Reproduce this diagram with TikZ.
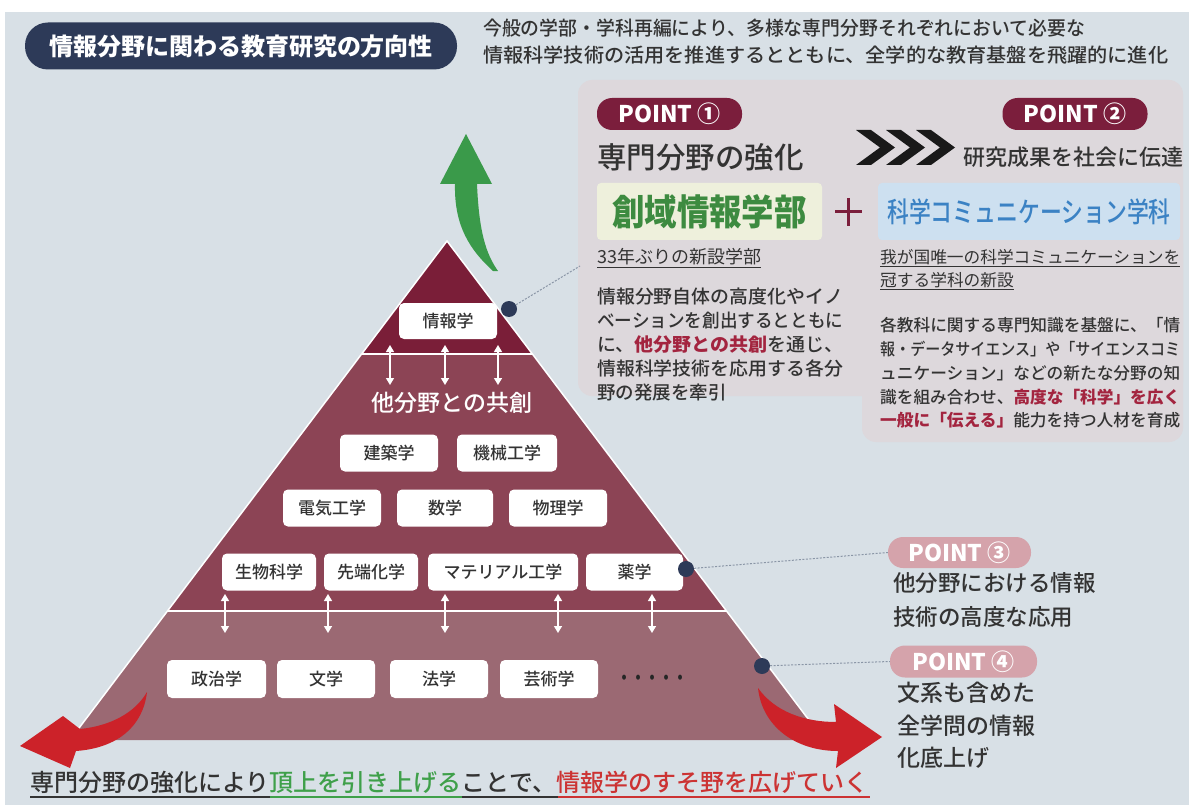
\documentclass[tikz,border=0pt]{standalone}
\usepackage{fontspec}
\usepackage{graphicx}
\setmainfont{Noto Sans CJK JP}
\IfFontExistsTF{Noto Sans CJK JP Medium}{\newfontfamily\medf{Noto Sans CJK JP Medium}}{\newcommand{\medf}{\rmfamily}}
\usetikzlibrary{arrows.meta,calc}
\definecolor{bgc}{HTML}{D8E0E6}
\definecolor{panelc}{HTML}{DDD8DC}
\definecolor{navy}{HTML}{2D3A58}
\definecolor{maroon}{HTML}{7B1E3C}
\definecolor{tiertop}{HTML}{7A1E38}
\definecolor{tiermid}{HTML}{8C4455}
\definecolor{tierbot}{HTML}{9B6973}
\definecolor{rose}{HTML}{D5A3AB}
\definecolor{hl}{HTML}{A3243F}
\definecolor{txt}{HTML}{333333}
\definecolor{greenbox}{HTML}{EEF0DC}
\definecolor{greentxt}{HTML}{3D8B40}
\definecolor{bluebox}{HTML}{CDE0F0}
\definecolor{bluetxt}{HTML}{3B82C4}
\definecolor{garrow}{HTML}{3A9A4A}
\definecolor{rarrow}{HTML}{CC2229}
\definecolor{dotline}{HTML}{8A96A6}
\definecolor{btmgreen}{HTML}{3FA04A}
\definecolor{btmred}{HTML}{CC3333}
\newcommand{\fsz}[1]{\fontsize{#1}{#1}\selectfont}
\newcommand{\fitw}[2]{\resizebox{#1}{\height}{#2}}
\newcommand{\hlt}[1]{{\color{hl}\rmfamily\bfseries #1}}
\begin{document}
\begin{tikzpicture}[x=1pt,y=-1pt,
  fieldbox/.style={fill=white, rounded corners=5pt, minimum height=37pt, inner sep=0pt, text=txt, font=\medf\fsz{17}},
  pointdark/.style={fill=maroon, rounded corners=15pt, minimum width=145pt, minimum height=32pt, inner sep=0pt, text=white, font=\bfseries\fsz{23}},
  pointlight/.style={pointdark, fill=rose},
  dbl/.style={white, line width=1.4pt, {Triangle[width=8pt,length=7pt]}-{Triangle[width=8pt,length=7pt]}},
  leader/.style={dotline, line width=1pt, dash pattern=on 2pt off 1.5pt},
  navydot/.style={circle, fill=navy, minimum size=16pt, inner sep=0pt},
  txtnode/.style={inner sep=0pt, text=txt, anchor=west},
]
\useasboundingbox (0,0) rectangle (1189,805);
\fill[white] (0,0) rectangle (1189,805);
\fill[bgc] (5,12) rectangle (1189,805);

% title
\node[fill=navy, rounded corners=23pt, minimum width=432pt, minimum height=47pt, inner sep=0pt, text=white, font=\bfseries\fsz{24}] (title) at (241,46) {情報分野に関わる教育研究の方向性};
\node[txtnode, font=\medf\fsz{19.5}] (intro1) at (483,28) {\fitw{602pt}{今般の学部・学科再編により、多様な専門分野それぞれにおいて必要な}};
\node[txtnode, font=\medf\fsz{19.5}] (intro2) at (483,55) {\fitw{685pt}{情報科学技術の活用を推進するとともに、全学的な教育基盤を飛躍的に進化}};

% panel
\fill[panelc, rounded corners=14pt] (578,80) rectangle (1183,396);
\fill[panelc, rounded corners=14pt] (862,230) rectangle (1183,442);

\node[pointdark] (p1) at (669.5,114) {POINT ①};
\node[pointdark] (p2) at (1075,114) {POINT ②};
\node[txtnode, font=\medf\fsz{29.5}] (h1) at (597,157) {専門分野の強化};
\foreach \i in {0,1,2}
  \fill[black!90] ($(856,130)+(\i*30,0)$) -- ++(15,0) -- ++(24,17.5) -- ++(-24,17.5) -- ++(-15,0) -- ++(24,-17.5) -- cycle;
\node[txtnode, font=\medf\fsz{22}] (h2) at (963,157) {研究成果を社会に伝達};

\node[fill=greenbox, rounded corners=4pt, minimum width=225pt, minimum height=57pt, inner sep=0pt, text=greentxt, font=\bfseries\fsz{36}] (sogen) at (709.5,211.5) {\scalebox{0.9}[1]{創域情報学部}};
\node[fill=bluebox, rounded corners=4pt, minimum width=302pt, minimum height=57pt, inner sep=0pt, text=bluetxt, font=\medf\fsz{28}] (kagaku) at (1029,211.5) {\scalebox{0.78}[1]{科学コミュニケーション学科}};
\draw[maroon, line width=3pt] (835,212) -- (862,212) (848.5,198) -- (848.5,226);

\node[txtnode, font=\fsz{18}] (new1) at (597,258) {\underline{33年ぶりの新設学部}};
\node[txtnode, anchor=north west, align=left, font=\medf\fontsize{18.5}{24}\selectfont] (para1) at (597,287.5) {%
\fitw{246pt}{情報分野自体の高度化やイノ}\\
\fitw{246pt}{ベーションを創出するとともに}\\
\fitw{246pt}{に、\hlt{他分野との共創}を通じ、}\\
\fitw{246pt}{情報科学技術を応用する各分}\\
野の発展を牽引};

\node[txtnode, anchor=north west, align=left, font=\fontsize{16.7}{23}\selectfont] (head2) at (880,249.5) {%
\fitw{300pt}{\underline{我が国唯一の科学コミュニケーションを}}\\
\underline{冠する学科の新設}};
\node[txtnode, anchor=north west, align=left, font=\medf\fontsize{16.7}{23.7}\selectfont] (para2) at (880,317.5) {%
\fitw{300pt}{各教科に関する専門知識を基盤に、「情}\\
\fitw{300pt}{報・データサイエンス」や「サイエンスコミ}\\
\fitw{300pt}{ュニケーション」などの新たな分野の知}\\
\fitw{300pt}{識を組み合わせ、\hlt{高度な「科学」を広く}}\\
\fitw{300pt}{\hlt{一般に「伝える」}能力を持つ人材を育成}};

% pyramid
\fill[tiertop] (447,241) -- (532.4,354) -- (361.6,354) -- cycle;
\fill[tiermid] (361.6,354) -- (532.4,354) -- (726.5,611) -- (167.5,611) -- cycle;
\fill[tierbot] (167.5,611) -- (726.5,611) -- (824,740) -- (70,740) -- cycle;
\draw[white, line width=1.5pt] (70,740) -- (447,241) -- (824,740);
\draw[white, line width=2pt] (361.6,354) -- (532.4,354) (167.5,611) -- (726.5,611);

% green arrow
\fill[garrow] (466,134) -- (492,184) -- (477,184) .. controls (479,232) and (486,254) .. (498,271) -- (493,271) .. controls (470,250) and (454,226) .. (455,184) -- (440,184) -- cycle;

% nodes in pyramid
\node[fieldbox, minimum width=98pt, minimum height=36pt] (joho) at (448,321) {情報学};
\node[inner sep=0pt, text=white, font=\medf\fsz{23}] (kyoso) at (452,403) {他分野との共創};
\coordinate (ua1) at (390,345); \coordinate (ub1) at (390,385);
\coordinate (ua2) at (445,345); \coordinate (ub2) at (445,385);
\coordinate (ua3) at (498,345); \coordinate (ub3) at (498,385);
\draw[dbl] (ua1) -- (ub1);
\draw[dbl] (ua2) -- (ub2);
\draw[dbl] (ua3) -- (ub3);

\node[fieldbox, minimum width=98pt] (kenchiku) at (389,453) {建築学};
\node[fieldbox, minimum width=100pt] (kikai) at (507,453) {機械工学};
\node[fieldbox, minimum width=98pt] (denki) at (332,508) {電気工学};
\node[fieldbox, minimum width=96pt] (sugaku) at (445,508) {数学};
\node[fieldbox, minimum width=98pt] (butsuri) at (558,508) {物理学};
\node[fieldbox, minimum width=94pt] (seibutsu) at (269,572) {生物科学};
\node[fieldbox, minimum width=94pt] (sentan) at (371,572) {先端化学};
\node[fieldbox, minimum width=150pt] (material) at (503,572) {マテリアル工学};
\node[fieldbox, minimum width=97pt] (yaku) at (634.5,572) {薬学};

\coordinate (la1) at (225,594); \coordinate (lb1) at (225,633);
\coordinate (la2) at (328,594); \coordinate (lb2) at (328,633);
\coordinate (la3) at (445,594); \coordinate (lb3) at (445,633);
\coordinate (la4) at (558,594); \coordinate (lb4) at (558,633);
\coordinate (la5) at (652,594); \coordinate (lb5) at (652,633);
\foreach \k in {1,...,5} \draw[dbl] (la\k) -- (lb\k);

\node[fieldbox, minimum width=99pt, minimum height=38pt] (seiji) at (216.5,679) {政治学};
\node[fieldbox, minimum width=98pt, minimum height=38pt] (bungaku) at (326,679) {文学};
\node[fieldbox, minimum width=98pt, minimum height=38pt] (hogaku) at (439,679) {法学};
\node[fieldbox, minimum width=98pt, minimum height=38pt] (geijutsu) at (549,679) {芸術学};
\node[txtnode, font=\bfseries\fsz{18}, text=black!85] (etc) at (617,680) {\scalebox{0.78}[1]{・・・・・}};

% red arrows
\fill[rarrow] (147,692) .. controls (135,713) and (110,726) .. (80,729) -- (63,716) -- (20,746) -- (70,768) -- (76,751) .. controls (118,748) and (143,726) .. (147,692) -- cycle;
\fill[rarrow] (758,688) .. controls (775,712) and (805,722) .. (836,722) -- (834,704) -- (882,737) -- (836,768) -- (838,751) .. controls (795,751) and (762,726) .. (758,688) -- cycle;

% points 3 & 4
\node[pointlight, minimum width=143pt, minimum height=31pt] (p3) at (959.5,552.5) {POINT ③};
\node[pointlight, minimum width=147pt, minimum height=32pt] (p4) at (963.5,661.5) {POINT ④};
\node[txtnode, font=\medf\fsz{22.5}] (t3a) at (893,583) {他分野における情報};
\node[txtnode, font=\medf\fsz{22.5}] (t3b) at (893,617) {技術の高度な応用};
\node[txtnode, font=\medf\fsz{23}] (t4a) at (897,693) {文系も含めた};
\node[txtnode, font=\medf\fsz{23}] (t4b) at (897,726) {全学問の情報};
\node[txtnode, font=\medf\fsz{23}] (t4c) at (897,758) {化底上げ};

% leaders and dots
\coordinate (c1) at (580,266);
\node[navydot] (dot1) at (509,309) {};
\node[navydot] (dot2) at (686,569) {};
\node[navydot] (dot3) at (762,666) {};
\draw[leader] (dot1) -- (c1);
\draw[leader] (dot2) -- (p3.west);
\draw[leader] (dot3) -- (p4.west);

% bottom sentence
\node[txtnode, font=\medf\fsz{24}] (bottom) at (30,782) {専門分野の強化により{\color{btmgreen}頂上を引き上げる}ことで、{\color{btmred}情報学のすそ野を広げていく}};
\draw[txt, line width=1.3pt] ($(bottom.west)+(0,15)$) -- ++(240,0);
\draw[btmgreen, line width=1.3pt] ($(bottom.west)+(240,15)$) -- ++(192,0);
\draw[txt, line width=1.3pt] ($(bottom.west)+(432,15)$) -- ++(96,0);
\draw[btmred, line width=1.3pt] ($(bottom.west)+(528,15)$) -- ++(312,0);
\end{tikzpicture}
\end{document}
